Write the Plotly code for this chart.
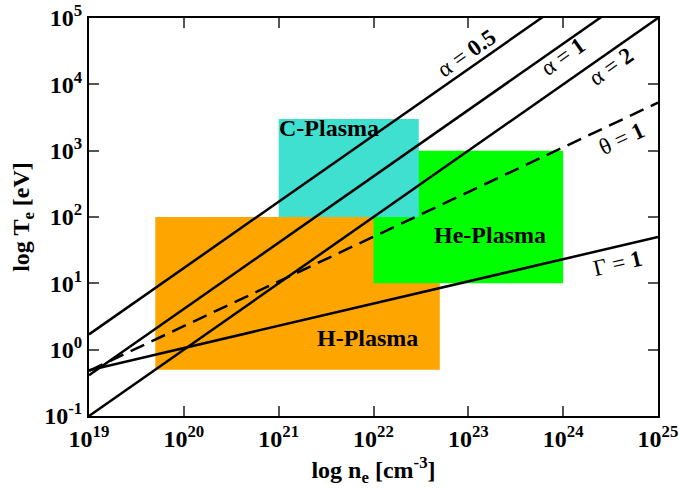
import plotly.graph_objects as go

# ---- data ----
n_range = [1e19, 1e25]           # electron density range [cm^-3]
T_alpha05 = [1.7, 1.7e6]         # alpha = 0.5 line (T at n_range ends)
T_alpha1 = [0.41, 4.1e5]         # alpha = 1
T_alpha2 = [0.1, 1e5]            # alpha = 2
T_theta1 = [0.48, 5300]          # theta = 1 (dashed)
T_gamma1 = [0.49, 50]            # Gamma = 1

region_names = ["H-Plasma", "He-Plasma", "C-Plasma"]
region_n_min = [5e19, 1e22, 1e21]
region_n_max = [5e22, 1e24, 3e22]
region_T_min = [0.5, 10, 100]
region_T_max = [100, 1000, 3000]
region_colors = ["#FFA500", "#00FF00", "#40E0D0"]
region_label_pos = [(21.932, 0.18), (23.23, 1.724), (21.532, 3.343)]  # log10 positions

line_labels = ["α = <b>0.5</b>", "α = <b>1</b>", "α = <b>2</b>", "θ = <b>1</b>", "Γ = <b>1</b>"]
line_label_pos = [(22.977, 4.465), (24.0, 4.42), (24.506, 4.27), (24.62, 3.185), (24.57, 1.303)]
line_label_angle = [-35, -35, -35, -25, -13]

x_exponents = [19, 20, 21, 22, 23, 24, 25]
y_exponents = [-1, 0, 1, 2, 3, 4, 5]

FONT = "Liberation Serif"

fig = go.Figure()

for i in range(len(region_names)):
    x0, x1 = region_n_min[i], region_n_max[i]
    y0, y1 = region_T_min[i], region_T_max[i]
    fig.add_trace(go.Scatter(
        x=[x0, x1, x1, x0, x0], y=[y0, y0, y1, y1, y0],
        mode="lines", fill="toself", fillcolor=region_colors[i],
        line=dict(width=0, color=region_colors[i]), hoverinfo="skip", showlegend=False))

for T, dash in [(T_alpha05, "solid"), (T_alpha1, "solid"), (T_alpha2, "solid"),
                (T_theta1, "15px,8px"), (T_gamma1, "solid")]:
    fig.add_trace(go.Scatter(x=n_range, y=T, mode="lines",
                             line=dict(color="black", width=2.5, dash=dash),
                             showlegend=False, hoverinfo="skip"))

for name, (lx, ly) in zip(region_names, region_label_pos):
    fig.add_annotation(x=lx, y=ly, text="<b>" + name + "</b>", showarrow=False,
                       font=dict(family=FONT, size=24, color="black"))

for txt, (lx, ly), ang in zip(line_labels, line_label_pos, line_label_angle):
    fig.add_annotation(x=lx, y=ly, text=txt, showarrow=False, textangle=ang,
                       font=dict(family=FONT, size=23, color="black"))

axis_common = dict(
    type="log", tickmode="array", automargin=False,
    ticks="inside", ticklen=10, tickwidth=1.5, tickcolor="#555",
    showline=True, linecolor="black", linewidth=2, mirror="ticks",
    showgrid=False, zeroline=False,
    tickfont=dict(family=FONT, size=24, color="black", weight="bold"),
)

fig.update_xaxes(range=[19, 25], **axis_common,
                 tickvals=[10.0 ** e for e in x_exponents],
                 ticktext=["10<sup>%d</sup>" % e for e in x_exponents],
                 title=dict(text="<b>log n<sub>e</sub> [cm<sup>-3</sup>]</b>",
                            font=dict(family=FONT, size=24, color="black"), standoff=10))
fig.update_yaxes(range=[-1, 5], **axis_common,
                 tickvals=[10.0 ** e for e in y_exponents],
                 ticktext=["10<sup>%d</sup>" % e for e in y_exponents],
                 title=dict(text="<b>log T<sub>e</sub> [eV]</b>",
                            font=dict(family=FONT, size=24, color="black"), standoff=8))

fig.update_layout(width=679, height=491, margin=dict(l=89, r=21, t=18, b=75),
                  plot_bgcolor="white", paper_bgcolor="white", showlegend=False)

fig.write_html("out.html")
